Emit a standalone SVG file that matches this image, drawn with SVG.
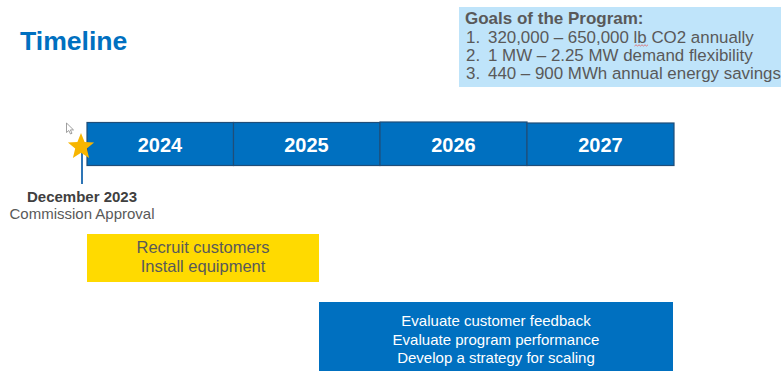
<svg xmlns="http://www.w3.org/2000/svg" width="781" height="371" viewBox="0 0 781 371">
<style>
.t{font-family:"Liberation Sans",Arial,sans-serif}
.yr{font-family:"Liberation Sans",Arial,sans-serif;font-weight:bold;font-size:20px;fill:#fff;text-anchor:middle}
.seg{fill:#0070C0;stroke:#1F4E79;stroke-width:1.2}
.goal{font-family:"Liberation Sans",Arial,sans-serif;font-size:16.9px;fill:#595959}
</style>
<rect width="781" height="371" fill="#fff"/>
<g id="title"><text class="t" x="20" y="50" font-size="26.6" font-weight="bold" fill="#0070C0">Timeline</text></g>
<g id="goals">
<rect x="459" y="7" width="322" height="80" fill="#BFE4FA"/>
<text class="t" x="465" y="24" font-size="17" font-weight="bold" fill="#595959">Goals of the Program:</text>
<text class="goal" y="43"><tspan x="466">1.</tspan><tspan x="488">320,000 – 650,000 lb CO2 annually</tspan></text>
<text class="goal" y="61"><tspan x="466">2.</tspan><tspan x="488">1 MW – 2.25 MW demand flexibility</tspan></text>
<text class="goal" y="79"><tspan x="466">3.</tspan><tspan x="488">440 – 900 MWh annual energy savings</tspan></text>
<path d="M634.5 46 l1.5 -1.2 l1.5 1.2 l1.5 -1.2 l1.5 1.2 l1.5 -1.2 l1.5 1.2 l1.5 -1.2 l1.5 1.2 l1.5 -1.2" fill="none" stroke="#E06060" stroke-width="0.8"/>
</g>
<g id="timeline">
<rect class="seg" x="87" y="122.5" width="146.5" height="43"/>
<rect class="seg" x="233.5" y="122.5" width="146.5" height="43"/>
<rect class="seg" x="380" y="122" width="147" height="43.5"/>
<rect class="seg" x="527" y="123" width="147" height="42.5"/>
<text class="yr" x="160" y="152">2024</text>
<text class="yr" x="306.5" y="152">2025</text>
<text class="yr" x="453.5" y="152">2026</text>
<text class="yr" x="600.5" y="152">2027</text>
</g>
<g id="connectors">
<line x1="82" y1="150" x2="82" y2="184" stroke="#2E75B6" stroke-width="2"/>
</g>
<g id="milestone">
<polygon points="81,133 84.6,142 94.1,142.5 86.8,148.6 89.1,157.9 81,152.8 72.9,157.9 75.2,148.6 67.9,142.5 77.4,142" fill="#F7B500"/>
<text class="t" x="82" y="202" font-size="15" font-weight="bold" fill="#404040" text-anchor="middle">December 2023</text>
<text class="t" x="82" y="219" font-size="15" fill="#595959" text-anchor="middle">Commission Approval</text>
</g>
<g id="cursor">
<path d="M66.5 123 L66.5 132.5 L68.8 130.5 L70.5 134 L72 133.3 L70.4 129.9 L73.5 129.9 Z" fill="#fff" stroke="#888" stroke-width="0.8" stroke-linejoin="round"/>
</g>
<g id="phase1">
<rect x="87" y="234" width="232" height="48" fill="#FFDA00"/>
<text class="t" x="203" y="253" font-size="16.5" fill="#595959" text-anchor="middle">Recruit customers</text>
<text class="t" x="203" y="272" font-size="16.5" fill="#595959" text-anchor="middle">Install equipment</text>
</g>
<g id="phase2">
<rect x="319" y="302" width="354" height="69" fill="#0070C0"/>
<text class="t" x="496" y="326" font-size="15" fill="#fff" text-anchor="middle">Evaluate customer feedback</text>
<text class="t" x="496" y="344.5" font-size="15" fill="#fff" text-anchor="middle">Evaluate program performance</text>
<text class="t" x="496" y="363" font-size="15" fill="#fff" text-anchor="middle">Develop a strategy for scaling</text>
</g>
</svg>
